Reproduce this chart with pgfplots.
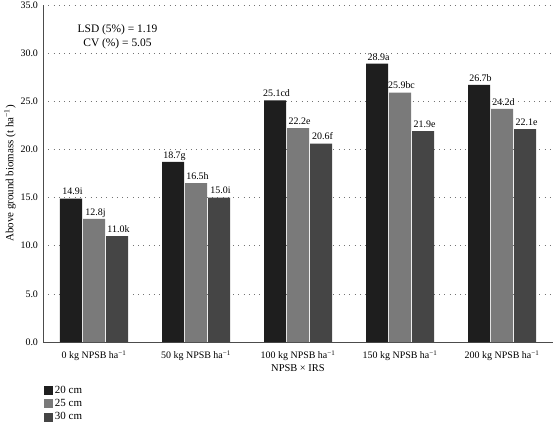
\documentclass[border=0pt]{standalone}
\usepackage{fontspec}
\setmainfont{Liberation Serif}
\usepackage{pgfplots}
\pgfplotsset{compat=1.18}
\definecolor{cA}{HTML}{1E1E1E}
\definecolor{cB}{HTML}{7A7A7A}
\definecolor{cC}{HTML}{454545}
\begin{document}
\begin{tikzpicture}
\useasboundingbox (0,0) rectangle (560bp,423bp);
\begin{axis}[
  at={(43bp,81bp)}, anchor=south west,
  width=510bp, height=337bp, scale only axis,
  ybar=1bp, bar width=22bp,
  xmin=-0.5, xmax=4.5, ymin=0, ymax=35,
  xtick={0,1,2,3,4},
  xticklabels={0 kg NPSB ha\textsuperscript{−1},50 kg NPSB ha\textsuperscript{−1},100 kg NPSB ha\textsuperscript{−1},150 kg NPSB ha\textsuperscript{−1},200 kg NPSB ha\textsuperscript{−1}},
  ytick={0,5,10,15,20,25,30,35},
  yticklabel style={font=\fontsize{10}{12}\selectfont, xshift=-1.5bp, /pgf/number format/fixed, /pgf/number format/fixed zerofill, /pgf/number format/precision=1, /pgf/number format/assume math mode=true},
  axis x line*=bottom, axis y line*=left,
  axis line style={draw=black!70, line width=0.8pt},
  tick style={draw=none},
  ymajorgrids, grid style={black!55, line width=0.7pt, dash pattern=on 0.7pt off 4.6pt},
  xticklabel style={font=\fontsize{10}{12}\selectfont, yshift=-1bp},
  xlabel={NPSB × IRS},
  ylabel={Above ground biomass (t ha\textsuperscript{−1})},
  xlabel style={font=\fontsize{10.5}{12}\selectfont, at={(axis description cs:0.5,0)}, anchor=center, yshift=-26bp},
  ylabel style={font=\fontsize{11}{13}\selectfont, at={(axis description cs:-0.0706,0.5)}, anchor=center, yshift=-3bp},
  nodes near coords=\pgfplotspointmeta,
  point meta=explicit symbolic,
  nodes near coords style={font=\fontsize{10}{12}\selectfont, anchor=base, inner sep=0pt, yshift=3.7bp, xshift=1.5bp},
  legend style={at={(rel axis cs:0,0)}, anchor=north west, yshift=-40bp, xshift=-2bp, draw=none, fill=none,
    font=\fontsize{11}{13}\selectfont, row sep=1bp, nodes={inner sep=1.8pt}},
  legend cell align=left,
  legend image code/.code={\fill[#1] (0bp,-4.5bp) rectangle (9bp,4.5bp);},
  clip=false,
]
\addplot[fill=cA, draw=none] coordinates {(0,14.9)[14.9i] (1,18.7)[18.7g] (2,25.1)[25.1cd] (3,28.9)[28.9a] (4,26.7)[26.7b]};
\addplot[fill=cB, draw=none] coordinates {(0,12.8)[12.8j] (1,16.5)[16.5h] (2,22.2)[22.2e] (3,25.9)[25.9bc] (4,24.2)[24.2d]};
\addplot[fill=cC, draw=none] coordinates {(0,11.0)[11.0k] (1,15.0)[15.0i] (2,20.6)[20.6f] (3,21.9)[21.9e] (4,22.1)[22.1e]};
\legend{20 cm,25 cm,30 cm}
\node[font=\fontsize{11.5}{14}\selectfont, align=center] at (axis cs:0.23,31.7) {LSD (5\%) = 1.19\\CV (\%) = 5.05};
\end{axis}
\end{tikzpicture}
\end{document}
